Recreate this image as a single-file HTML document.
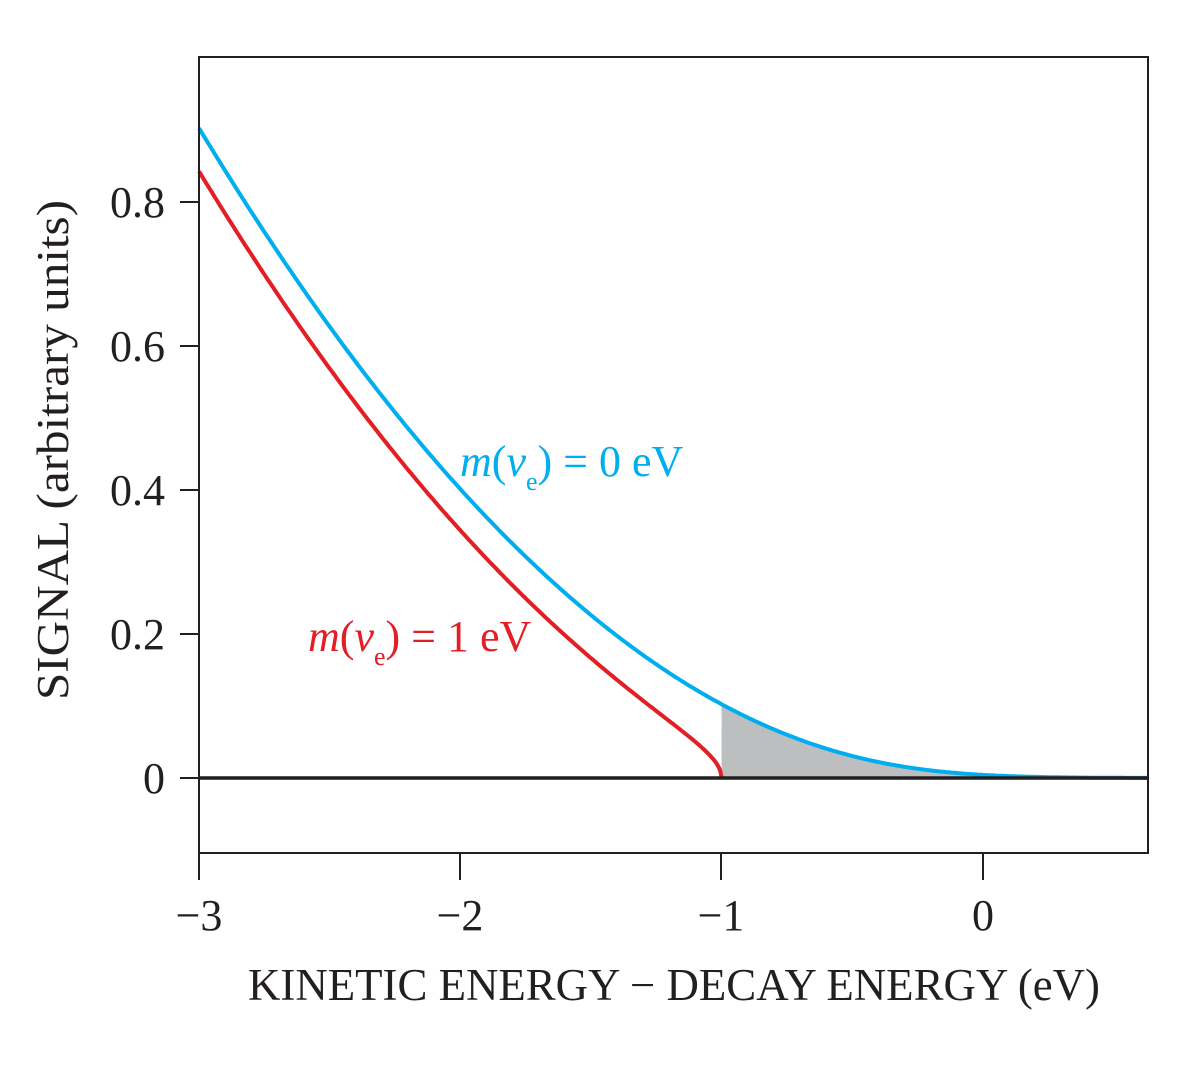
<!DOCTYPE html>
<html><head><meta charset="utf-8"><style>
body{margin:0;background:#fff}
svg text{font-family:"Liberation Serif",serif;fill:#231f20}
</style></head><body>
<svg id="s" width="1200" height="1064" xmlns="http://www.w3.org/2000/svg">
<path id="fill" fill="#bcbec0" d=""/>
<path id="red" fill="none" stroke="#e31e24" stroke-width="4" d=""/>
<path id="blue" fill="none" stroke="#00aeef" stroke-width="4" d=""/>
<line x1="199" y1="778" x2="1148" y2="778" stroke="#231f20" stroke-width="3.5"/>
<rect x="199" y="57" width="949" height="796" fill="none" stroke="#231f20" stroke-width="2"/>
<g stroke="#231f20" stroke-width="2">
<line x1="180" y1="778" x2="199" y2="778"/><line x1="180" y1="634" x2="199" y2="634"/>
<line x1="180" y1="490" x2="199" y2="490"/><line x1="180" y1="346" x2="199" y2="346"/>
<line x1="180" y1="202" x2="199" y2="202"/>
<line x1="199" y1="853" x2="199" y2="880"/><line x1="460" y1="853" x2="460" y2="880"/>
<line x1="721" y1="853" x2="721" y2="880"/><line x1="983" y1="853" x2="983" y2="880"/>
</g>
<g font-size="44" text-anchor="end">
<text x="165" y="793">0</text><text x="165" y="649">0.2</text><text x="165" y="505">0.4</text>
<text x="165" y="361">0.6</text><text x="165" y="217">0.8</text>
</g>
<g font-size="44" text-anchor="middle">
<text x="199" y="930">−3</text><text x="460" y="930">−2</text><text x="721" y="930">−1</text><text x="983" y="930">0</text>
</g>
<text x="248" y="1000" font-size="45" textLength="852" lengthAdjust="spacingAndGlyphs">KINETIC ENERGY − DECAY ENERGY (eV)</text>
<text transform="translate(68,700) rotate(-90)" font-size="45" textLength="500" lengthAdjust="spacingAndGlyphs">SIGNAL (arbitrary units)</text>
<text x="460" y="476" font-size="44" style="fill:#00aeef"><tspan font-style="italic">m</tspan>(<tspan font-style="italic">ν</tspan><tspan font-size="26" dy="14">e</tspan><tspan dy="-14">) = 0 eV</tspan></text>
<text x="308" y="651" font-size="44" style="fill:#e31e24"><tspan font-style="italic">m</tspan>(<tspan font-style="italic">ν</tspan><tspan font-size="26" dy="14">e</tspan><tspan dy="-14">) = 1 eV</tspan></text>
</svg>
<script>
var X=function(x){return 199+(x+3)*261.3},Y=function(y){return 778-y*720};
var ab=0.1003,a=0.0993,s=0.3;
function fb(x){var sp=s*Math.log(1+Math.exp((0-x)/s));return ab*sp*sp;}
function fr(x){var e=-x;var d=e*e-1;return d<=0?0:a*e*Math.sqrt(d);}
var b="",r="",f="";
for(var x=-3;x<=0.631;x+=0.01){b+=(b?"L":"M")+X(x).toFixed(1)+","+Y(fb(x)).toFixed(1);}
for(var x=-3;x<-1.0;x+=0.005){r+=(r?"L":"M")+X(x).toFixed(1)+","+Y(fr(x)).toFixed(1);}
r+="L"+X(-1).toFixed(1)+","+Y(0);
f="M"+X(-1)+","+Y(0);
for(var x=-1;x<=0.631;x+=0.01){f+="L"+X(x).toFixed(1)+","+Y(fb(x)).toFixed(1);}
f+="L1148,"+Y(0)+"Z";
document.getElementById("blue").setAttribute("d",b);
document.getElementById("red").setAttribute("d",r);
document.getElementById("fill").setAttribute("d",f);
</script>
</body></html>
